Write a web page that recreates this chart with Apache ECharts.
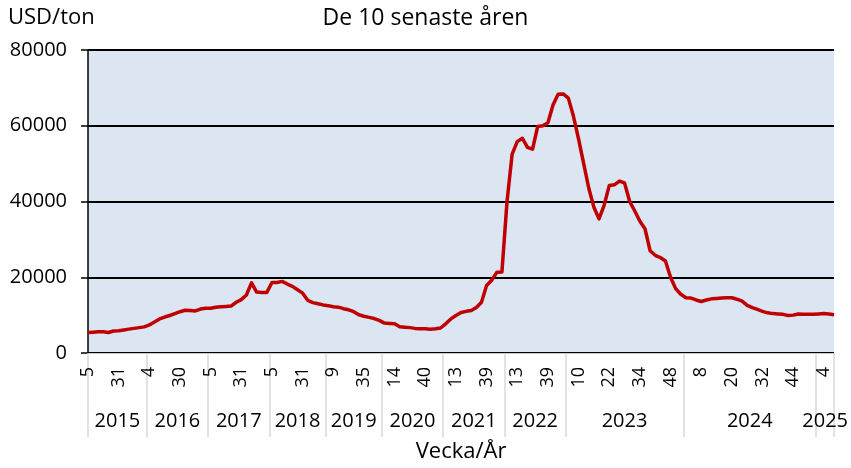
<!DOCTYPE html>
<html>
<head>
<meta charset="utf-8">
<script src="https://cdn.jsdelivr.net/npm/echarts@6/dist/echarts.min.js"></script>
<style>
html,body{margin:0;padding:0;background:#fff;}
#chart{width:851px;height:468px;}
</style>
</head>
<body>
<div id="chart"></div>
<script>
// ---- Data ----
const years = [2015, 2016, 2017, 2018, 2019, 2020, 2021, 2022, 2023, 2024, 2025];
const yearCounts = [12, 12, 12, 11, 11, 12, 12, 12, 23, 26, 4];
const weekTickLabels = ["5","31","4","30","5","31","5","31","9","35","14","40","13","39","13","39","10","22","34","48","8","20","32","44","4"];
const weekTickStep = 6;
const prices = [
  // 2015
  5400, 5500, 5600, 5600, 5400, 5800, 5900, 6100, 6300, 6500, 6700, 6900,
  // 2016
  7400, 8200, 9000, 9500, 9900, 10400, 10900, 11300, 11200, 11100, 11600, 11800,
  // 2017
  11800, 12100, 12200, 12300, 12400, 13400, 14100, 15300, 18500, 16100, 16000, 16000,
  // 2018
  18600, 18600, 18900, 18200, 17600, 16700, 15800, 13900, 13300, 13000, 12700,
  // 2019
  12500, 12200, 12100, 11700, 11400, 10900, 10100, 9700, 9400, 9100, 8600,
  // 2020
  7900, 7800, 7700, 6900, 6800, 6700, 6500, 6400, 6400, 6300, 6400, 6600,
  // 2021
  7700, 9000, 9900, 10700, 11000, 11200, 12000, 13400, 17800, 19200, 21300, 21400,
  // 2022
  40000, 52500, 55800, 56700, 54300, 53800, 59800, 60000, 60800, 65500, 68300, 68400,
  // 2023
  67300, 62500, 56500, 50000, 43500, 38500, 35400, 39000, 44200, 44400, 45400, 44900,
  40000, 37500, 34800, 32800, 27000, 25800, 25200, 24300, 20000, 17000, 15500,
  // 2024
  14600, 14500, 14000, 13600, 14000, 14300, 14400, 14500, 14600, 14600, 14200, 13700,
  12600, 12000, 11500, 11000, 10600, 10400, 10300, 10200, 9900, 10000, 10300, 10200,
  10200, 10200,
  // 2025
  10300, 10400, 10300, 10100
];
const titleText = "De 10 senaste åren";
const yUnit = "USD/ton";
const xName = "Vecka/År";

// ---- Derived axis structures ----
const categories = [];
years.forEach((y, yi) => { for (let k = 0; k < yearCounts[yi]; k++) categories.push(y + "-" + (k + 1)); });
const lastIdx = categories.length - 1;
const starts = [];
let acc = 0;
yearCounts.forEach(c => { starts.push(acc); acc += c; });
const bounds = starts.map((s, i) => i === 0 ? 0 : s - 0.5);
bounds.push(lastIdx);
const mids = [];
const midYear = {};
for (let i = 0; i < years.length; i++) {
  const m = (bounds[i] + bounds[i + 1]) / 2;
  mids.push(m);
  midYear[m.toFixed(3)] = String(years[i]);
}

const FONT = "'Open Sans', 'Noto Sans', sans-serif";
const chart = echarts.init(document.getElementById('chart'), null, { renderer: 'canvas' });
chart.setOption({
  animation: false,
  textStyle: { fontFamily: FONT, color: '#000' },
  title: [
    { text: titleText, left: 'center', top: 2, textStyle: { fontFamily: FONT, fontSize: 23, fontWeight: 'normal', color: '#000' } },
    { text: yUnit, left: 3, top: 2, textStyle: { fontFamily: FONT, fontSize: 22, fontWeight: 'normal', color: '#000' } }
  ],
  grid: { left: 88, right: 13, top: 50, bottom: 115, show: true, backgroundColor: '#dce6f2', borderWidth: 0 },
  xAxis: [
    {
      type: 'category', data: categories, boundaryGap: false, position: 'bottom',
      axisLine: { show: true, lineStyle: { color: '#c8c8c8', width: 1 } },
      axisTick: { show: false },
      axisLabel: {
        interval: (i) => i % weekTickStep === 0,
        formatter: (v, i) => weekTickLabels[Math.round(i / weekTickStep)] || '',
        rotate: 90, margin: 14, fontSize: 18, fontFamily: FONT, color: '#000'
      },
      splitLine: { show: false }
    },
    {
      type: 'value', min: 0, max: lastIdx, position: 'bottom',
      axisLine: { show: false },
      axisTick: { show: true, customValues: bounds, length: 84, inside: false, lineStyle: { color: '#d9d9d9', width: 1.5 } },
      axisLabel: {
        customValues: mids, margin: 58, fontSize: 20, fontFamily: FONT, color: '#000',
        formatter: (v) => midYear[Number(v).toFixed(3)] || ''
      },
      splitLine: { show: false },
      name: xName, nameLocation: 'middle', nameGap: 88,
      nameTextStyle: { fontSize: 22, fontFamily: FONT, color: '#000' }
    }
  ],
  yAxis: {
    type: 'value', min: 0, max: 80000, interval: 20000,
    axisLine: { show: true, lineStyle: { color: '#000', width: 1.5 } },
    axisTick: { show: true, length: 7, inside: false, lineStyle: { color: '#000', width: 1.5 } },
    axisLabel: { fontSize: 20, margin: 21, fontFamily: FONT, color: '#000', formatter: (v) => String(v) },
    splitLine: { show: true, lineStyle: { color: '#000', width: 2 } }
  },
  series: [{
    type: 'line', data: prices, xAxisIndex: 0, yAxisIndex: 0,
    showSymbol: false, symbol: 'none',
    lineStyle: { color: '#c00000', width: 3.5, join: 'round' },
    z: 5
  }]
});
</script>
</body>
</html>
